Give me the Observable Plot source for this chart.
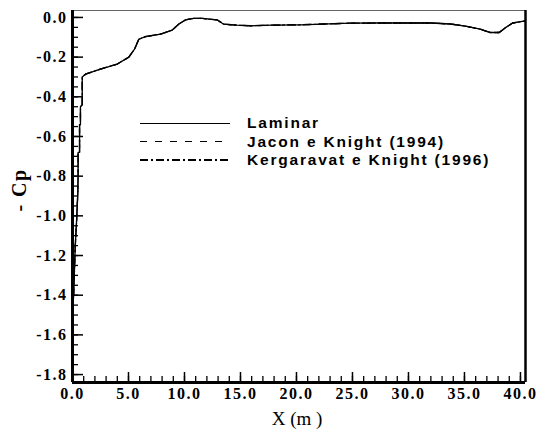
<!DOCTYPE html>
<html><head><meta charset="utf-8">
<script src="https://cdn.jsdelivr.net/npm/d3@7"></script>
<script src="https://cdn.jsdelivr.net/npm/@observablehq/plot@0.6"></script>
<style>
html,body{margin:0;padding:0;background:#fff;}
#wrap{position:relative;width:536px;height:432px;}
#chart svg{display:block;}
g[aria-label$="tick label"] text{letter-spacing:1.5px;}
.ov{position:absolute;white-space:nowrap;margin:0;color:#000;}
.ytitle{font-family:"Liberation Serif","Times New Roman",serif;font-weight:bold;font-size:20px;line-height:20px;letter-spacing:1.5px;transform:translate(-50%,-50%) rotate(-90deg);}
.xtitle{font-family:"Liberation Serif","Times New Roman",serif;font-size:19px;line-height:19px;transform:translateX(-50%);}
.lgtext{font-family:"Liberation Sans",Arial,sans-serif;font-weight:bold;font-size:15.5px;line-height:16px;letter-spacing:1.8px;}
.lgline{height:1.3px;}
</style></head><body><div id="wrap"><div id="chart"></div></div>
<script>
// X positions (m)
const xPos = [0.02,0.05,0.10,0.24,0.36,0.47,0.50,0.50,0.63,0.63,0.71,0.71,0.87,0.87,1.16,2.5,4.0,5.03,5.54,5.92,6.5,7.86,8.9,9.5,10.1,10.8,11.6,12.9,13.5,14.7,15.9,17.8,20.4,24.8,27.2,32.0,33.75,35.2,36.4,37.3,38.1,38.7,39.3,40.15,40.4];
// -Cp values (Laminar)
const laminarCp = [-1.48,-1.44,-1.40,-1.16,-1.03,-0.89,-0.80,-0.68,-0.68,-0.54,-0.54,-0.45,-0.44,-0.30,-0.286,-0.26,-0.235,-0.20,-0.16,-0.11,-0.097,-0.084,-0.064,-0.033,-0.012,-0.005,-0.005,-0.012,-0.034,-0.039,-0.042,-0.039,-0.037,-0.029,-0.028,-0.028,-0.033,-0.045,-0.059,-0.076,-0.076,-0.05,-0.028,-0.02,-0.018];
// The two turbulence-model curves coincide with the laminar one in the picture
const jaconCp = laminarCp;
const kergaravatCp = laminarCp;

const seriesNames = ["Laminar", "Jacon e Knight (1994)", "Kergaravat e Knight (1996)"];
const seriesDash = [null, "7,8", "8,3,2,3"];
const legendPatterns = [
  "#000",
  "repeating-linear-gradient(to right,#000 0 7px,transparent 7px 15px)",
  "repeating-linear-gradient(to right,#000 0 8px,transparent 8px 11px,#000 11px 13px,transparent 13px 16px)"
];

const xMajor = [0,5,10,15,20,25,30,35,40];
const xTickLabels = ["0.0","5.0","10.0","15.0","20.0","25.0","30.0","35.0","40.0"];
const yMajor = [-1.8,-1.6,-1.4,-1.2,-1.0,-0.8,-0.6,-0.4,-0.2,0];
const yTickLabels = ["-1.8","-1.6","-1.4","-1.2","-1.0","-0.8","-0.6","-0.4","-0.2","0.0"];
const xMinor = d3.range(0, 41, 1);
const yMinor = d3.range(0, 37).map(i => Math.round((-1.8 + i * 0.05) * 100) / 100);

const xDomain = [0, 40.45];
const yDomain = [-1.84, 0.035];

const seriesValues = [laminarCp, jaconCp, kergaravatCp];
const rows = seriesValues.map((vals, s) => xPos.map((x, i) => ({x, cp: vals[i], s})));

const serif = "Liberation Serif, Times New Roman, serif";
const xLab = new Map(xMajor.map((d, i) => [d, xTickLabels[i]]));
const yLab = new Map(yMajor.map((d, i) => [d, yTickLabels[i]]));

const W = 536, H = 432, mL = 72, mR = 11, mT = 10, mB = 50;
const fw = W - mL - mR, fh = H - mT - mB;
// data units per pixel, for inward tick lengths
const kx = (xDomain[1] - xDomain[0]) / fw;
const ky = (yDomain[1] - yDomain[0]) / fh;

const chart = Plot.plot({
  width: W, height: H,
  marginLeft: mL, marginRight: mR, marginTop: mT, marginBottom: mB,
  x: {domain: xDomain, label: null},
  y: {domain: yDomain, label: null},
  style: {background: "#fff", color: "#000"},
  marks: [
    // inward ticks
    Plot.ruleX(xMinor, {x: d => d, y1: yDomain[0], y2: yDomain[0] + 6 * ky, stroke: "#000", strokeWidth: 1.3}),
    Plot.ruleX(xMajor, {x: d => d, y1: yDomain[0], y2: yDomain[0] + 10 * ky, stroke: "#000", strokeWidth: 1.5}),
    Plot.ruleY(yMinor, {y: d => d, x1: xDomain[0], x2: xDomain[0] + 6 * kx, stroke: "#000", strokeWidth: 1.3}),
    Plot.ruleY(yMajor, {y: d => d, x1: xDomain[0], x2: xDomain[0] + 11 * kx, stroke: "#000", strokeWidth: 1.5}),
    Plot.axisX(xMajor, {anchor: "bottom", tickSize: 0, tickPadding: 5, tickFormat: d => xLab.get(d), label: null,
      fontFamily: serif, fontSize: 16, fontWeight: "bold"}),
    Plot.axisY(yMajor, {anchor: "left", tickSize: 0, tickPadding: 5, tickFormat: d => yLab.get(d), label: null,
      fontFamily: serif, fontSize: 16, fontWeight: "bold"}),
    Plot.ruleY([yDomain[1]], {stroke: "#666", strokeWidth: 1}),
    Plot.ruleX([xDomain[1]], {stroke: "#000", strokeWidth: 2.5}),
    Plot.ruleX([xDomain[0]], {stroke: "#000", strokeWidth: 3}),
    Plot.ruleY([yDomain[0]], {stroke: "#000", strokeWidth: 3}),
    ...rows.map((r, s) => Plot.line(r, {x: "x", y: "cp", stroke: "#000", strokeWidth: 1.3,
      strokeDasharray: seriesDash[s] ?? undefined}))
  ]
});
document.getElementById("chart").appendChild(chart);

// Axis titles and legend as HTML overlays
const wrap = document.getElementById("wrap");
function addDiv(cls, text, styles) {
  const d = document.createElement("div");
  d.className = "ov " + cls;
  if (text != null) d.textContent = text;
  Object.assign(d.style, styles);
  wrap.appendChild(d);
  return d;
}
addDiv("ytitle", "- Cp", {left: "19px", top: "190px"});
addDiv("xtitle", "X (m )", {left: "297px", top: "409px"});
seriesNames.forEach((name, i) => {
  const y = 123.3 + i * 18.4;
  addDiv("lgline", null, {left: "140px", top: (y - 0.65) + "px", width: "90px", background: legendPatterns[i]});
  addDiv("lgtext", name, {left: "247px", top: (y - 8) + "px"});
});
</script></body></html>
